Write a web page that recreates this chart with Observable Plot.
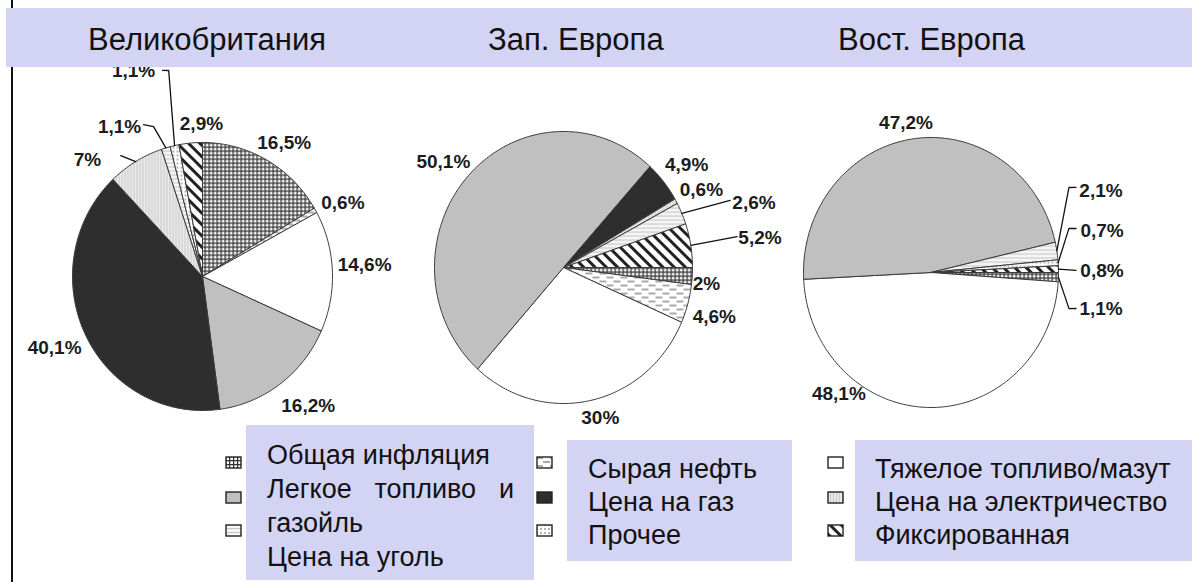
<!DOCTYPE html>
<html><head><meta charset="utf-8">
<script src="https://cdn.jsdelivr.net/npm/d3@7"></script>
<script src="https://cdn.jsdelivr.net/npm/@observablehq/plot@0.6"></script>
<style>
html,body{margin:0;padding:0;background:#fff;}
body{width:1192px;height:582px;position:relative;overflow:hidden;font-family:"Liberation Sans",Arial,sans-serif;color:#111;}
#vline{position:absolute;left:11px;top:0;width:1.6px;height:582px;background:#111;}
#band{position:absolute;left:6px;top:8px;width:1186px;height:59px;background:#d3d3f4;z-index:5;}
.title{position:absolute;top:24px;font-size:31px;line-height:31px;white-space:nowrap;}
.box{position:absolute;background:#d3d3f4;font-size:27px;box-sizing:border-box;z-index:5;}
.pie{position:absolute;}
.pie svg{overflow:visible;}
.icon{position:absolute;z-index:6;}
</style></head>
<body>
<svg width="0" height="0" style="position:absolute">
<defs>
<pattern id="p-grid" patternUnits="userSpaceOnUse" width="4" height="4">
<rect width="4" height="4" fill="#fff"/><path d="M0 0.6H4M0.6 0V4" stroke="#333" stroke-width="1.3"/></pattern>
<pattern id="p-crude" patternUnits="userSpaceOnUse" width="14" height="8">
<rect width="14" height="8" fill="#fff"/><path d="M0 2H7M7 6H14" stroke="#555" stroke-width="1.2"/></pattern>
<pattern id="p-heavy" patternUnits="userSpaceOnUse" width="4" height="4"><rect width="4" height="4" fill="#fff"/></pattern>
<pattern id="p-light" patternUnits="userSpaceOnUse" width="4" height="4"><rect width="4" height="4" fill="#c0c0c0"/></pattern>
<pattern id="p-gas" patternUnits="userSpaceOnUse" width="4" height="4"><rect width="4" height="4" fill="#2e2e2e"/></pattern>
<pattern id="p-elec" patternUnits="userSpaceOnUse" width="3" height="3">
<rect width="3" height="3" fill="#e9e9e9"/><path d="M0.5 0V3" stroke="#c9c9c9" stroke-width="1"/></pattern>
<pattern id="p-coal" patternUnits="userSpaceOnUse" width="4" height="4">
<rect width="4" height="4" fill="#f6f6f6"/><path d="M0 0.5H4" stroke="#c6c6c6" stroke-width="1.2"/></pattern>
<pattern id="p-other" patternUnits="userSpaceOnUse" width="4" height="4">
<rect width="4" height="4" fill="#fff"/><circle cx="1" cy="1" r="0.8" fill="#555"/></pattern>
<pattern id="p-fixed" patternUnits="userSpaceOnUse" width="8" height="8" patternTransform="rotate(-45)">
<rect width="8" height="8" fill="#fff"/><rect width="3" height="8" fill="#222"/></pattern>
</defs></svg>

<div id="vline"></div>
<div id="pies"></div>
<div id="band"></div>
<div class="title" style="left:88px;z-index:6">Великобритания</div>
<div class="title" style="left:488px;z-index:6">Зап. Европа</div>
<div class="title" style="left:838px;z-index:6">Вост. Европа</div>

<div class="box" style="left:246px;top:425px;width:288px;height:155px;padding:13px 20px 0 21px;line-height:34px;text-align:justify;">
<div>Общая инфляция</div><div>Легкое топливо и газойль</div><div>Цена на уголь</div></div>
<div class="box" style="left:567px;top:440px;width:225px;height:121px;padding:13px 10px 0 21px;line-height:33px;">
<div>Сырая нефть</div><div>Цена на газ</div><div>Прочее</div></div>
<div class="box" style="left:855px;top:440px;width:337px;height:121px;padding:13px 0 0 20px;line-height:33px;">
<div>Тяжелое топливо/мазут</div><div>Цена на электричество</div><div>Фиксированная</div></div>
<div id="icons"></div>

<script>
// ---- data ----
const categories = ["Общая инфляция","Сырая нефть","Тяжелое топливо/мазут","Легкое топливо и газойль","Цена на газ","Цена на электричество","Цена на уголь","Прочее","Фиксированная"];
const patternFills = ["url(#p-grid)","url(#p-crude)","url(#p-heavy)","url(#p-light)","url(#p-gas)","url(#p-elec)","url(#p-coal)","url(#p-other)","url(#p-fixed)"];
const ukValues   = [16.5, 0.6, 14.6, 16.2, 40.1, 7.0, 1.1, 1.1, 2.9];
const westValues = [2.0, 4.6, 30.0, 50.1, 4.9, 0.6, 2.6, 0, 5.2];
const eastValues = [1.1, 0, 48.1, 47.2, 0, 0, 2.1, 0.7, 0.8];
const legendOrder = [[0,3,6],[1,4,7],[2,5,8]];

// ---- layout (label angle in degrees from top clockwise, radius in pie radii) ----
const ukLabels = [
  {i:0,a:32.2,r:1.18},{i:1,a:63.2,r:1.21},{i:2,a:86.2,r:1.25},{i:3,a:139.8,r:1.26},
  {i:4,a:245,r:1.255},{i:5,a:314.6,r:1.243,leader:[[325.1,1.10]]},
  {i:6,a:330.3,r:1.288,leader:[[341.4,1.18],[338.2,1.22]]},
  {i:7,a:340.9,r:1.62,leader:[[350.4,1.559],[348.7,1.568]]},
  {i:8,a:359.6,r:1.142}];
const westLabels = [
  {i:3,a:309.9,r:1.214},{i:4,a:51.6,r:1.218},{i:5,a:61.8,r:1.213},
  {i:6,a:72.1,r:1.552,leader:[[69.1,1.383]]},{i:8,a:81.8,r:1.539,leader:[[80.4,1.365]]},
  {i:0,a:96.4,r:1.115},{i:1,a:107.1,r:1.223},{i:2,a:165.5,r:1.139}];
const eastLabels = [
  {i:3,a:350,r:1.128},{i:2,a:218.9,r:1.151},
  {i:6,a:65.5,r:1.465,leader:[[59.8,1.252],[61,1.3]]},
  {i:7,a:77,r:1.377,leader:[[73.2,1.13],[74,1.183]]},
  {i:8,a:89.4,r:1.341,leader:[[89.2,1.137]]},
  {i:0,a:101.3,r:1.36,leader:[[103.9,1.115],[103.2,1.168]]}];

const pies = [
  {values: ukValues, labels: ukLabels, cx:202, cy:276, rx:130, ry:134, start:0},
  {values: westValues, labels: westLabels, cx:563, cy:267, rx:129, ry:136, start:90},
  {values: eastValues, labels: eastLabels, cx:930.5, cy:272, rx:127.5, ry:135, start:90}
];

const toXY = (a, r) => { const t = a*Math.PI/180; return {x: r*Math.sin(t), y: r*Math.cos(t)}; };
const fmt = v => String(v).replace(".", ",") + "%";
const pad = 80;

pies.forEach(p => {
  const total = d3.sum(p.values);
  let cum = 0;
  const slices = [];
  p.values.forEach((v, i) => {
    const a0 = p.start + 360*cum/total; cum += v; const a1 = p.start + 360*cum/total;
    if (v > 0) slices.push({i, cat: categories[i], v, a0, a1, mid: (a0+a1)/2});
  });
  const rows = [];
  slices.forEach(s => {
    rows.push({id: s.i, cat: s.cat, x: 0, y: 0});
    const n = Math.max(2, Math.ceil(s.a1 - s.a0));
    for (let k = 0; k <= n; k++) rows.push({id: s.i, cat: s.cat, ...toXY(s.a0 + (s.a1-s.a0)*k/n, 1)});
    rows.push({id: s.i, cat: s.cat, x: 0, y: 0});
  });
  const labelRows = [], leaderRows = [];
  p.labels.forEach(L => {
    const s = slices.find(d => d.i === L.i);
    if (!s) return;
    labelRows.push({text: fmt(p.values[L.i]), ...toXY(L.a, L.r)});
    if (L.leader) {
      leaderRows.push({id: L.i, ...toXY(s.mid, 1.0)});
      L.leader.forEach(([a, r]) => leaderRows.push({id: L.i, ...toXY(a, r)}));
    }
  });
  const chart = Plot.plot({
    width: 2*p.rx + 2*pad, height: 2*p.ry + 2*pad, margin: 0,
    style: {fontFamily: "Liberation Sans, Arial, sans-serif", overflow: "visible"},
    x: {domain: [-1, 1], range: [pad, pad + 2*p.rx], axis: null},
    y: {domain: [-1, 1], range: [pad + 2*p.ry, pad], axis: null},
    color: {type: "ordinal", domain: categories, range: patternFills},
    marks: [
      Plot.line(rows, {x: "x", y: "y", z: "id", fill: "cat", stroke: "#3a3a3a", strokeWidth: 1, strokeLinejoin: "round", curve: "linear"}),
      Plot.line(leaderRows, {x: "x", y: "y", z: "id", stroke: "#111", strokeWidth: 1.3, curve: "linear"}),
      Plot.text(labelRows, {x: "x", y: "y", text: "text", fontSize: 19, fontWeight: "bold", fill: "#1c1c1c"})
    ]
  });
  chart.style.overflow = "visible";
  const div = document.createElement("div");
  div.className = "pie";
  div.style.left = (p.cx - p.rx - pad) + "px";
  div.style.top = (p.cy - p.ry - pad) + "px";
  div.style.width = (2*p.rx + 2*pad) + "px";
  div.appendChild(chart);
  document.getElementById("pies").appendChild(div);
});

// legend swatches
const iconX = [226, 537, 828], iconY = [462, 497, 530];
const icons = document.getElementById("icons");
legendOrder.forEach((col, c) => col.forEach((ci, r) => {
  const s = document.createElementNS("http://www.w3.org/2000/svg", "svg");
  s.setAttribute("class", "icon"); s.setAttribute("width", 17); s.setAttribute("height", 13);
  s.style.left = (iconX[c] - 1) + "px"; s.style.top = (iconY[r] - 6) + "px";
  s.innerHTML = `<rect x="1" y="1" width="15" height="11" fill="${patternFills[ci]}" stroke="#222" stroke-width="1.4"/>`;
  icons.appendChild(s);
}));
</script>
</body></html>
